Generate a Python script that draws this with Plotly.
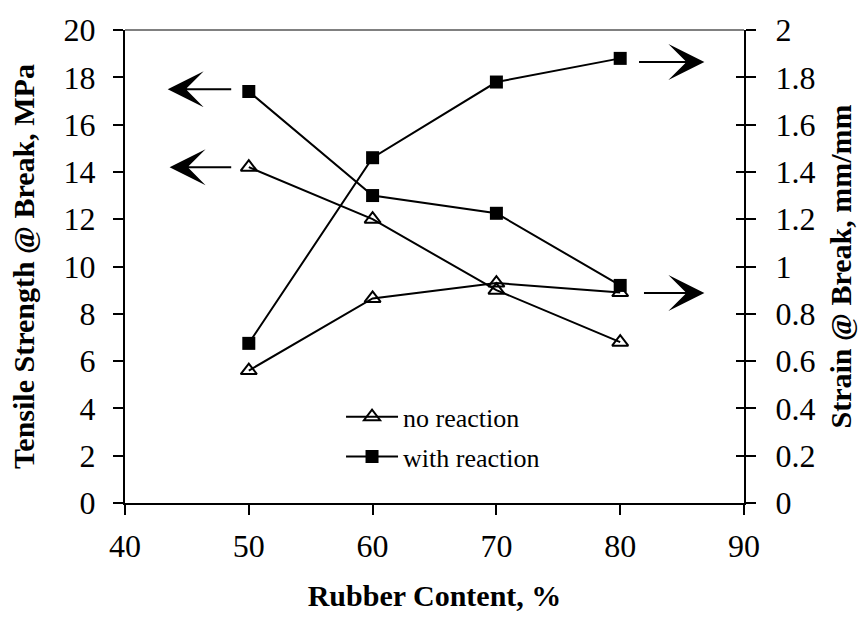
import plotly.graph_objects as go

rubber = [50, 60, 70, 80]
tensile_no = [14.2, 12.0, 9.0, 6.8]
tensile_with = [17.4, 13.0, 12.25, 9.2]
strain_no = [0.56, 0.865, 0.93, 0.89]
strain_with = [0.675, 1.46, 1.78, 1.88]

x_ticks = [40, 50, 60, 70, 80, 90]
y1_ticks = list(range(0, 21, 2))
y2_ticks = [0, 0.2, 0.4, 0.6, 0.8, 1, 1.2, 1.4, 1.6, 1.8, 2]
y2_text = ["0", "0.2", "0.4", "0.6", "0.8", "1", "1.2", "1.4", "1.6", "1.8", "2"]

SERIF = "Liberation Serif"
tri = dict(symbol="triangle-up-open", size=14, color="black", line=dict(width=2, color="black"))
sq = dict(symbol="square", size=13, color="black", line=dict(width=0))
ln = dict(color="black", width=2)

fig = go.Figure()
fig.add_trace(go.Scatter(x=rubber, y=tensile_no, mode="lines+markers", name="no reaction",
                         marker=tri, line=ln, legendgroup="a", yaxis="y"))
fig.add_trace(go.Scatter(x=rubber, y=tensile_with, mode="lines+markers", name="with reaction",
                         marker=sq, line=ln, legendgroup="b", yaxis="y"))
fig.add_trace(go.Scatter(x=rubber, y=strain_no, mode="lines+markers", name="no reaction",
                         marker=tri, line=ln, legendgroup="a", showlegend=False, yaxis="y2"))
fig.add_trace(go.Scatter(x=rubber, y=strain_with, mode="lines+markers", name="with reaction",
                         marker=sq, line=ln, legendgroup="b", showlegend=False, yaxis="y2"))

# Arrows pointing each pair of curves to its own axis
arrow = dict(showarrow=True, arrowhead=3, arrowsize=3, arrowwidth=2, arrowcolor="black", text="")
fig.add_annotation(x=43.45, y=17.5, ax=48.7, ay=17.5, xref="x", yref="y", axref="x", ayref="y", **arrow)
fig.add_annotation(x=43.6, y=14.2, ax=48.7, ay=14.2, xref="x", yref="y", axref="x", ayref="y", **arrow)
fig.add_annotation(x=86.8, y=1.865, ax=81.4, ay=1.865, xref="x", yref="y2", axref="x", ayref="y2", **arrow)
fig.add_annotation(x=86.8, y=0.888, ax=81.8, ay=0.888, xref="x", yref="y2", axref="x", ayref="y2", **arrow)

# Gray frame line along the top of the plot area
fig.add_shape(type="line", xref="paper", yref="paper", x0=0, x1=1, y0=1, y1=1,
              line=dict(color="#808080", width=2))

tickfont = dict(family=SERIF, size=32, color="black")
titlefont = dict(family=SERIF, size=30, color="black", weight="bold")

fig.update_layout(
    width=864, height=621,
    margin=dict(l=125, r=117, t=23, b=118),
    paper_bgcolor="white", plot_bgcolor="white",
    showlegend=True,
    legend=dict(x=0.349, y=0.232, xanchor="left", yanchor="top",
                font=dict(family=SERIF, size=26, color="black"),
                bgcolor="rgba(0,0,0,0)", itemwidth=52, tracegroupgap=3),
    xaxis=dict(range=[40, 90], tickvals=x_ticks, ticks="outside", ticklen=10, tickwidth=2,
               tickcolor="black", showline=True, linecolor="black", linewidth=2,
               showgrid=False, zeroline=False, tickfont=tickfont, ticklabelstandoff=4,
               title=dict(text="Rubber Content, %", font=titlefont, standoff=22)),
    yaxis=dict(range=[0, 20], tickvals=y1_ticks, ticks="outside", ticklen=10, tickwidth=2,
               tickcolor="black", showline=True, linecolor="black", linewidth=2,
               showgrid=False, zeroline=False, tickfont=tickfont, ticklabelstandoff=11,
               title=dict(text="Tensile Strength @ Break, MPa", font=titlefont, standoff=20)),
    yaxis2=dict(range=[0, 2], tickvals=y2_ticks, ticktext=y2_text, overlaying="y", side="right",
                anchor="x", ticks="outside", ticklen=10, tickwidth=2, tickcolor="black",
                showline=True, linecolor="black", linewidth=2, showgrid=False, zeroline=False,
                tickfont=tickfont, ticklabelstandoff=13,
                title=dict(text="Strain @ Break, mm/mm", font=titlefont, standoff=16)),
    yaxis3=dict(range=[0, 2], tickvals=y2_ticks, overlaying="y", side="right", anchor="x",
                ticks="inside", ticklen=8, tickwidth=2, tickcolor="black",
                showticklabels=False, showline=False, showgrid=False, zeroline=False),
)
# Empty trace so the inner tick marks on the right axis are rendered
fig.add_trace(go.Scatter(x=[None], y=[None], yaxis="y3", showlegend=False, hoverinfo="skip"))

fig.write_html("out.html")
